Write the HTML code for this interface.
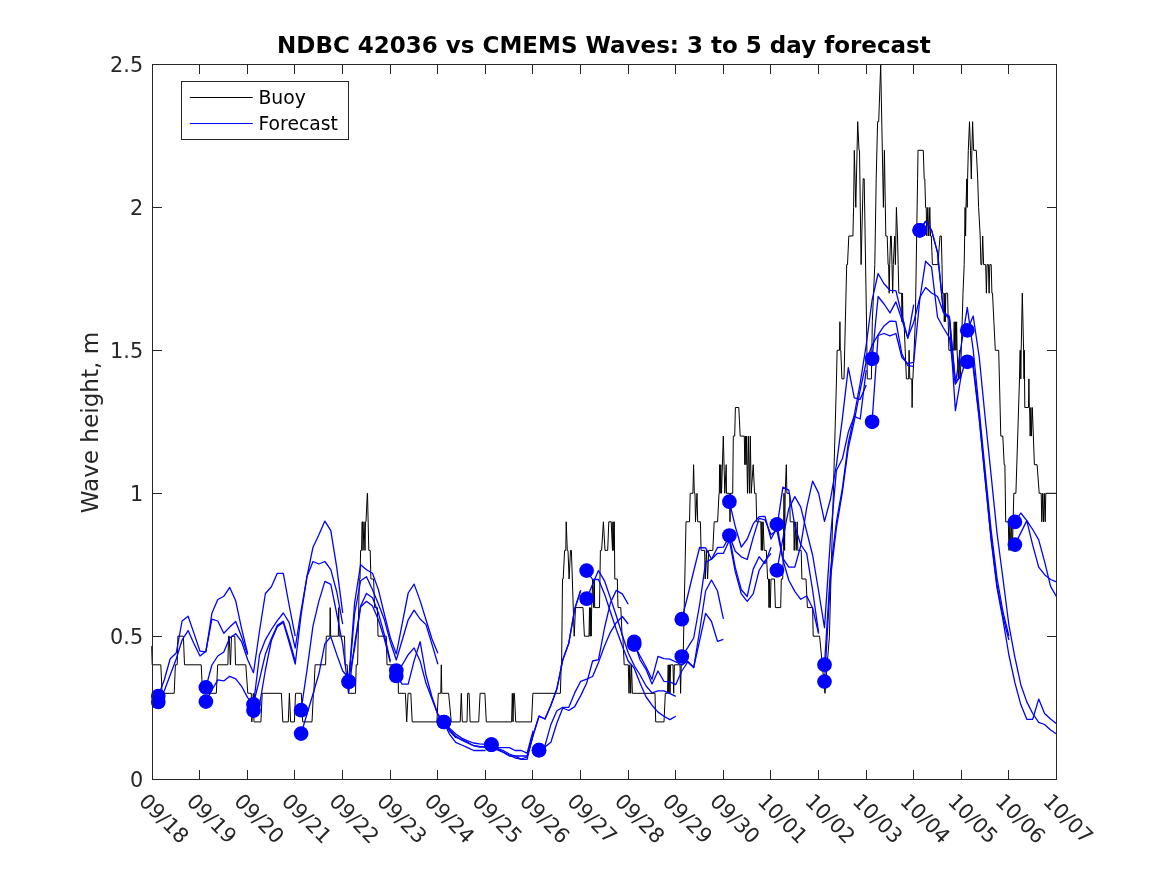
<!DOCTYPE html>
<html lang="en"><head><meta charset="utf-8"><title>NDBC 42036 vs CMEMS Waves</title>
<style>html,body{margin:0;padding:0;background:#fff}body{width:1167px;height:875px;overflow:hidden}svg{display:block;will-change:transform;opacity:.999}text{font-family:"DejaVu Sans","Liberation Sans",sans-serif}</style>
</head><body>
<svg width="1167" height="875" viewBox="0 0 1167 875">
<rect width="1167" height="875" fill="#fff"/>
<defs><clipPath id="c"><rect x="150.9" y="64.5" width="905.6" height="714.6"/></clipPath></defs>
<g clip-path="url(#c)" fill="none" stroke-linejoin="round">
<polyline stroke="#000" stroke-width="1" points="151.7,646.2 152.2,664.8 160.8,664.8 162.1,693.3 174.2,693.3 175.4,664.8 177.2,664.8 177.9,636.2 183.4,636.2 184.5,664.8 201.2,664.8 202.6,693.3 216.3,693.3 217.7,664.8 227.9,664.8 228.5,636.2 229.3,636.2 230.3,664.8 230.5,664.8 231.5,636.2 234.8,636.2 235.5,664.8 245.8,664.8 247.8,693.3 251.3,693.3 251.8,721.9 253.3,693.3 254.0,721.9 260.9,721.9 262.2,693.3 281.4,693.3 282.8,721.9 288.3,721.9 289.4,693.3 290.6,721.9 294.4,721.9 295.5,693.3 301.3,693.3 302.7,721.9 312.0,721.9 313.4,693.3 313.8,693.3 315.1,664.8 325.6,664.8 326.3,636.2 329.8,636.2 330.2,607.6 330.7,636.2 338.3,636.2 338.7,607.6 339.2,636.2 344.5,636.2 345.2,664.8 347.2,664.8 348.3,693.3 355.5,693.3 356.2,664.8 357.6,664.8 359.3,579.0 360.0,579.0 360.6,550.4 361.6,550.4 362.0,521.8 362.5,521.8 363.0,550.4 364.0,521.8 365.0,550.4 365.5,521.8 366.0,521.8 367.3,493.3 367.5,493.3 368.8,550.4 370.2,550.4 370.9,579.0 373.6,579.0 374.6,607.6 377.4,607.6 378.0,636.2 386.3,636.2 387.0,664.8 398.0,664.8 398.4,693.3 405.4,693.3 406.7,721.9 408.1,693.3 410.8,693.3 412.2,721.9 436.9,721.9 438.3,693.3 440.8,693.3 441.3,664.8 441.8,693.3 448.6,693.3 451.3,721.9 460.2,721.9 461.3,693.3 462.3,721.9 467.0,721.9 467.7,693.3 469.1,693.3 470.1,721.9 478.7,721.9 480.1,693.3 484.9,693.3 486.3,721.9 511.6,721.9 512.3,693.3 513.0,721.9 513.7,693.3 514.4,693.3 515.7,721.9 531.5,721.9 532.9,693.3 560.4,693.3 561.2,664.8 561.6,664.8 562.5,579.0 563.2,579.0 564.6,550.4 565.8,550.4 566.2,521.8 567.3,550.4 568.0,550.4 569.1,579.0 570.5,550.4 571.4,550.4 574.2,636.2 575.5,607.6 583.0,607.6 584.4,636.2 589.0,636.2 589.5,607.6 590.1,636.2 590.7,607.6 591.2,636.2 591.7,607.6 592.7,579.0 593.7,607.6 594.1,579.0 594.3,579.0 594.7,607.6 599.5,607.6 600.4,550.4 601.6,550.4 603.4,521.8 605.0,550.4 607.7,550.4 608.8,521.8 611.2,521.8 612.5,550.4 612.9,521.8 613.2,550.4 613.9,521.8 614.3,521.8 614.8,579.0 617.3,579.0 618.0,607.6 620.8,607.6 622.1,636.2 622.8,636.2 624.2,664.8 628.3,664.8 629.0,693.3 629.8,664.8 630.7,693.3 631.5,664.8 632.4,693.3 655.0,693.3 655.7,721.9 664.0,721.9 665.3,693.3 667.5,693.3 668.2,664.8 668.8,693.3 669.4,664.8 670.0,693.3 670.6,664.8 673.0,664.8 673.7,693.3 674.4,664.8 680.0,664.8 680.6,693.3 681.2,664.8 683.0,664.8 686.0,521.8 689.5,521.8 690.2,493.3 692.9,493.3 693.6,464.7 694.3,493.3 695.0,493.3 695.5,521.8 697.0,493.3 697.7,521.8 700.4,521.8 701.1,550.4 704.6,550.4 705.2,579.0 706.4,550.4 707.6,579.0 708.7,550.4 712.8,550.4 714.2,521.8 717.6,521.8 719.0,493.3 719.3,493.3 719.6,464.7 720.2,493.3 720.8,464.7 721.5,493.3 723.3,436.1 724.8,493.3 726.2,464.7 726.5,493.3 729.5,493.3 730.0,521.8 730.5,493.3 732.7,493.3 733.3,436.1 734.7,436.1 735.4,407.5 738.8,407.5 740.2,436.1 744.3,436.1 744.8,464.7 745.4,436.1 746.0,464.7 746.6,436.1 747.0,464.7 747.5,493.3 748.4,436.1 749.4,493.3 750.3,436.1 751.2,493.3 753.2,464.7 754.6,493.3 756.0,493.3 756.7,521.8 760.8,521.8 761.3,550.4 761.9,521.8 762.5,550.4 763.1,521.8 764.2,550.4 766.3,550.4 767.6,579.0 768.5,579.0 769.0,607.6 769.5,579.0 770.0,607.6 770.3,607.6 771.0,579.0 774.5,579.0 775.4,607.6 780.7,607.6 781.3,579.0 782.7,579.0 783.4,550.4 784.0,493.3 784.6,550.4 785.2,493.3 786.3,464.7 786.9,493.3 789.6,493.3 790.2,521.8 793.7,521.8 794.2,550.4 795.2,521.8 796.2,550.4 797.2,521.8 797.8,550.4 801.2,550.4 801.9,579.0 806.0,579.0 807.4,607.6 812.6,607.6 813.2,636.2 819.6,636.2 825.0,693.3 829.4,636.2 836.5,378.9 837.1,350.3 839.5,350.3 839.9,321.8 840.3,350.3 840.8,350.3 841.9,378.9 844.0,378.9 846.7,264.6 847.5,264.6 848.8,236.0 852.9,236.0 853.6,207.4 854.3,150.3 855.8,207.4 857.7,121.7 859.0,150.3 859.5,150.3 861.1,264.6 863.2,178.8 864.2,178.8 866.5,321.8 867.3,378.9 871.4,378.9 872.3,321.8 874.8,264.6 876.2,178.8 877.6,121.7 878.7,121.7 880.7,64.5 883.4,207.4 884.4,150.3 885.8,236.0 887.2,236.0 888.1,264.6 888.6,264.6 889.2,293.2 889.7,264.6 890.6,236.0 891.3,236.0 892.0,264.6 892.7,293.2 893.3,264.6 894.7,236.0 895.4,264.6 896.4,207.4 897.5,236.0 898.2,264.6 898.8,293.2 901.6,293.2 902.0,321.8 902.5,293.2 903.0,321.8 904.0,321.8 906.4,378.9 908.6,378.9 909.1,350.3 909.8,378.9 911.8,378.9 912.1,407.5 912.6,378.9 912.9,378.9 915.3,321.8 917.6,178.8 918.0,150.3 923.3,150.3 924.2,178.8 924.8,178.8 925.6,207.4 926.2,207.4 926.8,236.0 927.8,207.4 928.8,236.0 929.8,207.4 930.5,236.0 931.3,236.0 932.4,264.6 937.9,264.6 940.0,236.0 941.3,236.0 942.0,264.6 942.5,293.2 943.8,293.2 944.3,321.8 944.8,293.2 945.3,321.8 945.8,293.2 947.6,293.2 948.2,321.8 948.9,350.3 953.7,350.3 954.2,321.8 954.8,350.3 955.4,321.8 956.0,350.3 956.6,321.8 957.1,350.3 958.3,378.9 959.5,350.3 959.8,378.9 960.3,378.9 961.3,350.3 963.0,293.2 964.2,264.6 965.1,207.4 965.6,236.0 966.0,207.4 966.8,178.8 967.2,207.4 967.6,178.8 968.3,150.3 969.5,121.7 970.5,150.3 971.3,178.8 971.9,150.3 972.6,121.7 973.6,150.3 976.3,150.3 977.7,178.8 978.6,207.4 980.2,236.0 980.9,264.6 981.8,264.6 982.7,236.0 983.6,264.6 985.7,264.6 986.4,293.2 987.1,264.6 988.4,264.6 989.1,293.2 989.8,264.6 991.2,264.6 991.9,293.2 992.5,293.2 993.9,321.8 995.3,350.3 998.7,350.3 1000.8,436.1 1002.8,436.1 1004.2,464.7 1004.9,464.7 1005.7,521.8 1008.3,521.8 1009.0,550.4 1009.9,521.8 1010.7,550.4 1011.5,521.8 1012.4,550.4 1013.8,493.3 1015.9,493.3 1019.5,378.9 1020.0,350.3 1020.4,350.3 1020.8,378.9 1021.2,350.3 1022.3,293.2 1023.6,350.3 1024.0,378.9 1024.3,350.3 1024.8,407.5 1028.5,407.5 1028.9,378.9 1029.3,407.5 1029.6,407.5 1030.2,436.1 1030.8,407.5 1031.4,436.1 1032.3,407.5 1034.4,464.7 1037.1,464.7 1039.2,493.3 1041.2,493.3 1041.8,521.8 1042.7,493.3 1043.5,521.8 1044.3,493.3 1045.2,521.8 1045.8,493.3 1056.5,493.3"/>
<polyline stroke="#00f" stroke-width="1.3" points="158.3,696.0 164.3,679.8 170.2,658.7 176.2,653.0 182.1,621.0 188.1,616.2 194.0,633.4 200.0,651.2 205.9,651.9 211.9,613.3 217.8,599.5 223.8,596.3 229.7,587.4 235.7,600.8 241.6,628.6 247.6,653.5"/>
<polyline stroke="#00f" stroke-width="1.3" points="158.3,702.0 164.3,690.7 170.2,675.0 176.2,659.0 182.1,640.0 188.1,630.6 194.0,643.7 200.0,656.0 205.9,651.2 211.9,619.2 217.8,621.0 223.8,633.3 229.7,627.1 235.7,621.5 241.6,636.8 247.6,654.7"/>
<polyline stroke="#00f" stroke-width="1.3" points="205.9,687.4 211.9,665.0 217.8,656.0 223.8,652.0 229.7,638.0 235.7,633.7 241.6,641.7 247.6,659.5 253.5,672.7 259.5,631.0 265.4,593.5 271.4,586.7 277.3,573.3 283.3,573.3 289.2,605.5 295.2,636.2"/>
<polyline stroke="#00f" stroke-width="1.3" points="205.9,701.6 211.9,690.0 217.8,679.8 223.8,680.9 229.7,676.3 235.7,678.8 241.6,686.3 247.6,697.6 253.5,703.5 259.5,679.6 265.4,654.2 271.4,638.4 277.3,625.4 283.3,621.3 289.2,639.8 295.2,661.0"/>
<polyline stroke="#00f" stroke-width="1.3" points="253.5,704.4 259.5,655.0 265.4,639.8 271.4,629.5 277.3,620.6 283.3,613.0 289.2,622.6 295.2,648.0 301.1,610.7 307.0,576.5 313.0,547.2 318.9,534.8 324.9,521.1 330.8,530.7 336.8,567.9 342.7,612.8"/>
<polyline stroke="#00f" stroke-width="1.3" points="253.5,710.6 259.5,705.0 265.4,670.0 271.4,640.5 277.3,626.7 283.3,622.2 289.2,642.5 295.2,664.2 301.1,614.8 307.0,576.5 313.0,561.5 318.9,564.0 324.9,561.5 330.8,569.7 336.8,592.0 342.7,624.2"/>
<polyline stroke="#00f" stroke-width="1.3" points="301.1,710.2 307.0,670.0 313.0,625.8 318.9,601.1 324.9,581.4 330.8,584.4 336.8,614.0 342.7,644.6 348.7,692.5 354.6,644.0 360.6,606.0 366.5,593.4 372.5,597.8 378.4,612.9 384.4,634.8 390.3,660.9"/>
<polyline stroke="#00f" stroke-width="1.3" points="301.1,733.6 307.0,714.0 313.0,694.0 318.9,673.8 324.9,643.6 330.8,636.8 336.8,654.6 342.7,671.0 348.7,678.0 354.6,648.5 360.6,607.0 366.5,601.3 372.5,606.0 378.4,619.8 384.4,639.0 390.3,662.3"/>
<polyline stroke="#00f" stroke-width="1.3" points="348.7,681.7 354.6,603.0 360.6,564.7 366.5,569.8 372.5,573.2 378.4,589.6 384.4,614.3 390.3,637.6 396.3,654.0 402.2,623.6 408.2,593.0 414.1,584.1 420.1,600.6 426.0,619.8 432.0,639.0 437.9,653.3"/>
<polyline stroke="#00f" stroke-width="1.3" points="348.7,681.7 354.6,614.0 360.6,580.8 366.5,576.7 372.5,589.7 378.4,604.0 384.4,619.8 390.3,641.7 396.3,660.0 402.2,640.3 408.2,619.8 414.1,610.2 420.1,619.0 426.0,624.6 432.0,644.4 437.9,664.3"/>
<polyline stroke="#00f" stroke-width="1.3" points="396.3,670.5 402.2,665.0 408.2,654.7 414.1,647.9 420.1,660.9 426.0,683.3 432.0,699.0 437.9,714.8 443.9,722.5 449.8,734.7 455.7,742.3 461.7,745.0 467.6,747.7 473.6,750.5 479.5,750.5 485.5,750.5"/>
<polyline stroke="#00f" stroke-width="1.3" points="396.3,676.0 402.2,684.2 408.2,684.2 414.1,660.9 420.1,641.7 426.0,675.0 432.0,697.0 437.9,714.2 443.9,722.0 449.8,731.3 455.7,737.5 461.7,739.5 467.6,742.3 473.6,745.7 479.5,747.0 485.5,747.0"/>
<polyline stroke="#00f" stroke-width="1.3" points="443.9,722.0 449.8,728.5 455.7,734.0 461.7,738.1 467.6,740.9 473.6,743.0 479.5,743.9 485.5,744.3 491.4,745.7 497.4,747.7 503.3,747.7 509.3,747.7 515.2,750.5 521.2,750.5 527.1,753.2 533.1,730.6"/>
<polyline stroke="#00f" stroke-width="1.3" points="443.9,722.0 449.8,730.0 455.7,736.1 461.7,740.2 467.6,743.0 473.6,745.7 479.5,746.4 485.5,746.6 491.4,747.7 497.4,749.8 503.3,752.5 509.3,756.0 515.2,756.0 521.2,759.4 527.1,759.4 533.1,734.0"/>
<polyline stroke="#00f" stroke-width="1.3" points="491.4,744.7 497.4,748.4 503.3,750.5 509.3,754.0 515.2,756.0 521.2,756.0 527.1,756.0 533.1,734.7 539.0,716.2 545.0,719.0 550.9,705.2 556.9,688.8 562.8,659.7 568.8,643.2 574.7,609.0 580.7,590.4"/>
<polyline stroke="#00f" stroke-width="1.3" points="491.4,744.7 497.4,749.0 503.3,752.0 509.3,755.0 515.2,758.0 521.2,759.0 527.1,757.0 533.1,735.5 539.0,716.2 545.0,719.0 550.9,705.2 556.9,688.8 562.8,659.7 568.8,643.2 574.7,609.0 580.7,590.4"/>
<polyline stroke="#00f" stroke-width="1.3" points="539.0,750.2 545.0,745.7 550.9,724.4 556.9,710.7 562.8,707.3 568.8,707.3 574.7,692.9 580.7,681.3 586.6,679.2 592.6,676.5 598.5,662.4 604.5,646.0 610.4,632.3 616.3,622.7 622.3,616.5 628.2,624.0"/>
<polyline stroke="#00f" stroke-width="1.3" points="539.0,750.2 545.0,747.0 550.9,742.3 556.9,723.0 562.8,708.0 568.8,710.5 574.7,706.6 580.7,695.6 586.6,683.3 592.6,661.0 598.5,659.7 604.5,628.0 610.4,602.8 616.3,590.4 622.3,593.9 628.2,604.2"/>
<polyline stroke="#00f" stroke-width="1.3" points="586.6,570.6 592.6,579.5 598.5,579.5 604.5,593.9 610.4,611.7 616.3,629.5 622.3,646.0 628.2,661.0 634.2,668.2 640.1,683.3 646.1,697.0 652.0,705.2 658.0,712.1 663.9,716.2 669.9,719.6 675.8,716.2"/>
<polyline stroke="#00f" stroke-width="1.3" points="586.6,598.7 592.6,584.3 598.5,570.6 604.5,580.8 610.4,598.0 616.3,615.8 622.3,635.0 628.2,652.8 634.2,665.5 640.1,675.0 646.1,686.0 652.0,692.9 658.0,690.8 663.9,690.8 669.9,693.6 675.8,696.3"/>
<polyline stroke="#00f" stroke-width="1.3" points="634.2,641.9 640.1,660.0 646.1,669.6 652.0,684.0 658.0,671.0 663.9,681.3 669.9,681.9 675.8,684.6 681.8,671.0 687.7,662.0 693.7,667.5 699.6,631.0 705.6,591.0 711.5,580.0 717.5,591.0 723.4,618.8"/>
<polyline stroke="#00f" stroke-width="1.3" points="634.2,644.6 640.1,656.0 646.1,667.0 652.0,679.2 658.0,656.3 663.9,658.6 669.9,659.2 675.8,662.0 681.8,665.0 687.7,661.3 693.7,667.5 699.6,640.7 705.6,613.3 711.5,621.5 717.5,641.4 723.4,639.4"/>
<polyline stroke="#00f" stroke-width="1.3" points="681.8,619.2 687.7,596.0 693.7,571.0 699.6,547.5 705.6,547.9 711.5,559.2 717.5,547.5 723.4,547.2 729.4,536.2 735.3,567.7 741.3,589.7 747.2,596.5 753.2,569.1 759.1,556.8 765.0,563.6 771.0,547.2"/>
<polyline stroke="#00f" stroke-width="1.3" points="681.8,656.5 687.7,647.6 693.7,638.0 699.6,605.0 705.6,562.3 711.5,559.2 717.5,553.3 723.4,553.3 729.4,540.3 735.3,571.9 741.3,593.8 747.2,601.3 753.2,593.8 759.1,570.5 765.0,560.9 771.0,553.3"/>
<polyline stroke="#00f" stroke-width="1.3" points="729.4,501.7 735.3,526.6 741.3,547.2 747.2,539.0 753.2,523.9 759.1,516.7 765.0,516.3 771.0,539.0 776.9,528.0 782.9,487.1 788.8,490.1 794.8,525.7 800.7,544.5 806.7,553.3 812.6,590.0 818.6,632.8"/>
<polyline stroke="#00f" stroke-width="1.3" points="729.4,535.5 735.3,551.3 741.3,556.8 747.2,559.5 753.2,537.6 759.1,518.4 765.0,519.8 771.0,534.8 776.9,530.0 782.9,559.7 788.8,580.3 794.8,591.4 800.7,599.3 806.7,596.0 812.6,608.0 818.6,633.7"/>
<polyline stroke="#00f" stroke-width="1.3" points="776.9,524.4 782.9,558.4 788.8,567.2 794.8,567.2 800.7,546.0 806.7,507.7 812.6,481.1 818.6,493.1 824.5,521.4 830.5,499.0 836.4,465.0 842.4,418.4 848.3,367.7 854.3,397.9 860.2,399.3 866.2,384.9"/>
<polyline stroke="#00f" stroke-width="1.3" points="776.9,570.4 782.9,538.5 788.8,508.6 794.8,496.6 800.7,506.8 806.7,531.7 812.6,555.0 818.6,591.0 824.5,627.7 830.5,537.6 836.4,470.5 842.4,458.8 848.3,432.1 854.3,416.3 860.2,419.0 866.2,370.0"/>
<polyline stroke="#00f" stroke-width="1.3" points="824.5,664.7 830.5,570.0 836.4,522.0 842.4,488.0 848.3,443.0 854.3,415.0 860.2,383.0 866.2,345.0 872.1,300.0 878.1,273.5 884.0,283.8 890.0,290.3 895.9,290.7 901.9,315.6 907.8,338.3 913.7,304.7"/>
<polyline stroke="#00f" stroke-width="1.3" points="824.5,681.6 830.5,578.0 836.4,528.0 842.4,492.0 848.3,448.0 854.3,421.0 860.2,390.0 866.2,362.0 872.1,345.0 878.1,334.8 884.0,325.9 890.0,321.1 895.9,321.4 901.9,354.0 907.8,365.7 913.7,366.4"/>
<polyline stroke="#00f" stroke-width="1.3" points="872.1,358.8 878.1,296.5 884.0,304.0 890.0,312.9 895.9,301.9 901.9,319.8 907.8,337.6 913.7,322.5 919.7,297.8 925.6,287.5 931.6,293.0 937.5,296.5 943.5,312.2 949.4,316.3 955.4,381.5 961.3,376.0"/>
<polyline stroke="#00f" stroke-width="1.3" points="872.1,421.8 878.1,335.5 884.0,333.5 890.0,335.9 895.9,333.5 901.9,357.5 907.8,363.6 913.7,362.3 919.7,300.0 925.6,261.2 931.6,267.3 937.5,317.0 943.5,328.0 949.4,337.6 955.4,384.2 961.3,373.9"/>
<polyline stroke="#00f" stroke-width="1.3" points="919.7,230.3 925.6,221.4 931.6,230.3 937.5,252.3 943.5,312.0 949.4,318.0 955.4,383.5 961.3,345.0 967.3,307.4 973.2,350.0 979.2,410.0 985.1,470.0 991.1,530.0 997.0,578.0 1003.0,612.0 1008.9,636.0"/>
<polyline stroke="#00f" stroke-width="1.3" points="919.7,230.3 925.6,221.4 931.6,230.3 937.5,252.3 943.5,312.5 949.4,319.0 955.4,410.6 961.3,375.0 967.3,356.0 973.2,368.0 979.2,419.0 985.1,479.0 991.1,538.0 997.0,585.0 1003.0,617.0 1008.9,640.0"/>
<polyline stroke="#00f" stroke-width="1.3" points="967.3,330.3 973.2,316.0 979.2,357.0 985.1,417.0 991.1,475.0 997.0,533.0 1003.0,579.0 1008.9,625.0 1014.9,657.3 1020.8,684.7 1026.8,701.9 1032.7,713.5 1038.7,722.4 1044.6,724.5 1050.6,730.0 1056.5,734.0"/>
<polyline stroke="#00f" stroke-width="1.3" points="967.3,361.8 973.2,364.0 979.2,417.0 985.1,478.0 991.1,540.0 997.0,588.0 1003.0,620.0 1008.9,655.0 1014.9,682.7 1020.8,704.6 1026.8,719.3 1032.7,719.3 1038.7,699.1 1044.6,713.5 1050.6,719.0 1056.5,723.8"/>
<polyline stroke="#00f" stroke-width="1.3" points="1014.9,521.9 1020.8,513.0 1026.8,520.6 1032.7,529.5 1038.7,539.8 1044.6,561.7 1050.6,586.4 1056.5,596.7"/>
<polyline stroke="#00f" stroke-width="1.3" points="1014.9,544.6 1020.8,532.9 1026.8,520.6 1032.7,545.2 1038.7,567.2 1044.6,574.7 1050.6,579.5 1056.5,581.8"/>
</g>
<g fill="#00f">
<circle cx="158.3" cy="696.0" r="7.35"/>
<circle cx="158.3" cy="702.0" r="7.35"/>
<circle cx="205.9" cy="687.4" r="7.35"/>
<circle cx="205.9" cy="701.6" r="7.35"/>
<circle cx="253.5" cy="704.4" r="7.35"/>
<circle cx="253.5" cy="710.6" r="7.35"/>
<circle cx="301.1" cy="710.2" r="7.35"/>
<circle cx="301.1" cy="733.6" r="7.35"/>
<circle cx="348.7" cy="681.7" r="7.35"/>
<circle cx="348.7" cy="681.7" r="7.35"/>
<circle cx="396.3" cy="670.5" r="7.35"/>
<circle cx="396.3" cy="676.0" r="7.35"/>
<circle cx="443.9" cy="722.0" r="7.35"/>
<circle cx="443.9" cy="722.0" r="7.35"/>
<circle cx="491.4" cy="744.7" r="7.35"/>
<circle cx="491.4" cy="744.7" r="7.35"/>
<circle cx="539.0" cy="750.2" r="7.35"/>
<circle cx="539.0" cy="750.2" r="7.35"/>
<circle cx="586.6" cy="570.6" r="7.35"/>
<circle cx="586.6" cy="598.7" r="7.35"/>
<circle cx="634.2" cy="641.9" r="7.35"/>
<circle cx="634.2" cy="644.6" r="7.35"/>
<circle cx="681.8" cy="619.2" r="7.35"/>
<circle cx="681.8" cy="656.5" r="7.35"/>
<circle cx="729.4" cy="501.7" r="7.35"/>
<circle cx="729.4" cy="535.5" r="7.35"/>
<circle cx="776.9" cy="524.4" r="7.35"/>
<circle cx="776.9" cy="570.4" r="7.35"/>
<circle cx="824.5" cy="664.7" r="7.35"/>
<circle cx="824.5" cy="681.6" r="7.35"/>
<circle cx="872.1" cy="358.8" r="7.35"/>
<circle cx="872.1" cy="421.8" r="7.35"/>
<circle cx="919.7" cy="230.3" r="7.35"/>
<circle cx="919.7" cy="230.3" r="7.35"/>
<circle cx="967.3" cy="330.3" r="7.35"/>
<circle cx="967.3" cy="361.8" r="7.35"/>
<circle cx="1014.9" cy="521.9" r="7.35"/>
<circle cx="1014.9" cy="544.6" r="7.35"/>
</g>
<g stroke="#262626" stroke-width="1" fill="none" shape-rendering="crispEdges">
<rect x="152.4" y="64.5" width="904.1" height="714.6"/>
<path d="M152.5 779.1v-9M152.5 64.5v9M199.5 779.1v-9M199.5 64.5v9M247.5 779.1v-9M247.5 64.5v9M294.5 779.1v-9M294.5 64.5v9M342.5 779.1v-9M342.5 64.5v9M390.5 779.1v-9M390.5 64.5v9M437.5 779.1v-9M437.5 64.5v9M485.5 779.1v-9M485.5 64.5v9M532.5 779.1v-9M532.5 64.5v9M580.5 779.1v-9M580.5 64.5v9M628.5 779.1v-9M628.5 64.5v9M675.5 779.1v-9M675.5 64.5v9M723.5 779.1v-9M723.5 64.5v9M770.5 779.1v-9M770.5 64.5v9M818.5 779.1v-9M818.5 64.5v9M866.5 779.1v-9M866.5 64.5v9M913.5 779.1v-9M913.5 64.5v9M961.5 779.1v-9M961.5 64.5v9M1008.5 779.1v-9M1008.5 64.5v9M1056.5 779.1v-9M1056.5 64.5v9M152.4 779.5h10M1056.5 779.5h-10M152.4 636.5h10M1056.5 636.5h-10M152.4 493.5h10M1056.5 493.5h-10M152.4 350.5h10M1056.5 350.5h-10M152.4 207.5h10M1056.5 207.5h-10M152.4 64.5h10M1056.5 64.5h-10"/>
</g>
<g fill="#262626" font-size="20.8px">
<text x="143.2" y="787.0" text-anchor="end">0</text>
<text x="143.2" y="644.1" text-anchor="end">0.5</text>
<text x="143.2" y="501.2" text-anchor="end">1</text>
<text x="143.2" y="358.2" text-anchor="end">1.5</text>
<text x="143.2" y="215.3" text-anchor="end">2</text>
<text x="143.2" y="72.4" text-anchor="end">2.5</text>
<text transform="translate(137.8 802.4) rotate(45)" x="0" y="0">09/18</text>
<text transform="translate(185.4 802.4) rotate(45)" x="0" y="0">09/19</text>
<text transform="translate(233.0 802.4) rotate(45)" x="0" y="0">09/20</text>
<text transform="translate(280.6 802.4) rotate(45)" x="0" y="0">09/21</text>
<text transform="translate(328.1 802.4) rotate(45)" x="0" y="0">09/22</text>
<text transform="translate(375.7 802.4) rotate(45)" x="0" y="0">09/23</text>
<text transform="translate(423.3 802.4) rotate(45)" x="0" y="0">09/24</text>
<text transform="translate(470.9 802.4) rotate(45)" x="0" y="0">09/25</text>
<text transform="translate(518.5 802.4) rotate(45)" x="0" y="0">09/26</text>
<text transform="translate(566.1 802.4) rotate(45)" x="0" y="0">09/27</text>
<text transform="translate(613.6 802.4) rotate(45)" x="0" y="0">09/28</text>
<text transform="translate(661.2 802.4) rotate(45)" x="0" y="0">09/29</text>
<text transform="translate(708.8 802.4) rotate(45)" x="0" y="0">09/30</text>
<text transform="translate(756.4 802.4) rotate(45)" x="0" y="0">10/01</text>
<text transform="translate(804.0 802.4) rotate(45)" x="0" y="0">10/02</text>
<text transform="translate(851.6 802.4) rotate(45)" x="0" y="0">10/03</text>
<text transform="translate(899.1 802.4) rotate(45)" x="0" y="0">10/04</text>
<text transform="translate(946.7 802.4) rotate(45)" x="0" y="0">10/05</text>
<text transform="translate(994.3 802.4) rotate(45)" x="0" y="0">10/06</text>
<text transform="translate(1041.9 802.4) rotate(45)" x="0" y="0">10/07</text>
</g>
<text transform="translate(98.0 422.6) rotate(-90)" text-anchor="middle" font-size="23.1px" fill="#262626">Wave height, m</text>
<text x="603.9" y="53.2" text-anchor="middle" font-size="23.0px" font-weight="bold" fill="#000">NDBC 42036 vs CMEMS Waves: 3 to 5 day forecast</text>
<rect x="181.5" y="81.5" width="167" height="58" fill="#fff" stroke="#262626" stroke-width="1" shape-rendering="crispEdges"/>
<line x1="189.8" y1="97.5" x2="252.8" y2="97.5" stroke="#000" stroke-width="1"/>
<line x1="189.8" y1="123.5" x2="252.8" y2="123.5" stroke="#00f" stroke-width="1.1"/>
<g font-size="18.75px" fill="#000"><text x="258.5" y="104.3">Buoy</text><text x="258.5" y="130.3">Forecast</text></g>
</svg></body></html>
